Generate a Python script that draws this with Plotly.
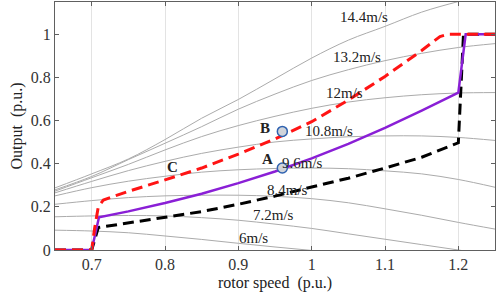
import plotly.graph_objects as go

# rotor speed grid (p.u.) for the wind-speed power curves
speed = [0.65, 0.70, 0.75, 0.80, 0.85, 0.90, 0.95, 1.00, 1.05, 1.10, 1.15, 1.20, 1.25]

wind_labels = ["6m/s", "7.2m/s", "8.4m/s", "9.6m/s", "10.8m/s", "12m/s", "13.2m/s", "14.4m/s"]
p_6 = [0.092, 0.088, 0.080, 0.065, 0.049, 0.031, 0.014, -0.002, -0.02, -0.04, -0.06, -0.08, -0.10]
p_72 = [0.154, 0.158, 0.160, 0.158, 0.150, 0.138, 0.120, 0.100, 0.075, 0.050, 0.025, 0.0, -0.025]
p_84 = [0.212, 0.229, 0.243, 0.251, 0.254, 0.254, 0.249, 0.238, 0.219, 0.191, 0.161, 0.128, 0.097]
p_96 = [0.251, 0.289, 0.319, 0.342, 0.361, 0.372, 0.378, 0.380, 0.377, 0.367, 0.353, 0.327, 0.291]
p_108 = [0.265, 0.318, 0.368, 0.411, 0.448, 0.477, 0.501, 0.515, 0.525, 0.529, 0.529, 0.522, 0.508]
p_12 = [0.273, 0.335, 0.397, 0.464, 0.526, 0.577, 0.620, 0.657, 0.686, 0.706, 0.720, 0.728, 0.730]
p_132 = [0.279, 0.341, 0.419, 0.495, 0.572, 0.653, 0.723, 0.786, 0.836, 0.878, 0.912, 0.939, 0.957]
p_144 = [0.288, 0.353, 0.422, 0.512, 0.611, 0.698, 0.794, 0.890, 0.973, 1.037, 1.103, 1.152, 1.193]
wind_curves = [p_6, p_72, p_84, p_96, p_108, p_12, p_132, p_144]

# curve label positions
lab_x = [0.92, 0.948, 0.967, 0.988, 1.023, 1.045, 1.062, 1.072]
lab_y = [0.056, 0.164, 0.277, 0.404, 0.55, 0.729, 0.896, 1.082]

# control strategy curves
red_x = [0.65, 0.70, 0.704, 0.709, 0.716, 0.75, 0.80, 0.85, 0.90, 0.95, 1.00, 1.05, 1.10, 1.15, 1.175, 1.185, 1.25]
red_y = [0, 0, 0.10, 0.20, 0.232, 0.272, 0.325, 0.38, 0.445, 0.515, 0.595, 0.695, 0.805, 0.925, 0.99, 1.0, 1.0]

pur_x = [0.65, 0.70, 0.71, 0.75, 0.80, 0.85, 0.90, 0.95, 1.00, 1.05, 1.10, 1.15, 1.20, 1.21, 1.25]
pur_y = [0, 0, 0.152, 0.179, 0.218, 0.261, 0.310, 0.364, 0.425, 0.492, 0.566, 0.646, 0.73, 1.0, 1.0]

blk_x = [0.65, 0.70, 0.709, 0.75, 0.80, 0.85, 0.90, 0.95, 1.00, 1.05, 1.10, 1.15, 1.20, 1.207, 1.25]
blk_y = [0, 0, 0.104, 0.125, 0.15, 0.178, 0.212, 0.25, 0.292, 0.333, 0.38, 0.43, 0.497, 1.0, 1.0]

# operating points
pt_names = ["A", "B"]
pt_x = [0.96, 0.96]
pt_y = [0.38, 0.55]
letter_x = [0.94, 0.936, 0.81]
letter_y = [0.42, 0.565, 0.386]
letters = ["A", "B", "C"]

x_ticks = [0.7, 0.8, 0.9, 1.0, 1.1, 1.2]
x_tick_text = ["0.7", "0.8", "0.9", "1", "1.1", "1.2"]
y_ticks = [0, 0.2, 0.4, 0.6, 0.8, 1.0]
y_tick_text = ["0", "0.2", "0.4", "0.6", "0.8", "1"]

SERIF = "Liberation Serif"

fig = go.Figure()
for vals in wind_curves:
    fig.add_trace(go.Scatter(x=speed, y=vals, mode="lines",
                             line=dict(color="#ababab", width=1, shape="spline"),
                             showlegend=False, hoverinfo="skip"))

fig.add_trace(go.Scatter(x=blk_x, y=blk_y, mode="lines",
                         line=dict(color="black", width=3, dash="11px,6px"), showlegend=False))
fig.add_trace(go.Scatter(x=pur_x, y=pur_y, mode="lines",
                         line=dict(color="#8a1fd6", width=2.5), showlegend=False))
fig.add_trace(go.Scatter(x=red_x, y=red_y, mode="lines",
                         line=dict(color="#ff1414", width=3, dash="11px,6px"), showlegend=False))
fig.add_trace(go.Scatter(x=pt_x, y=pt_y, mode="markers", text=pt_names,
                         marker=dict(size=10, color="#d0d4da", line=dict(color="#2f62b0", width=1.5)),
                         showlegend=False))

for t, xx, yy in zip(wind_labels, lab_x, lab_y):
    fig.add_annotation(x=xx, y=yy, text=t, showarrow=False,
                       font=dict(family=SERIF, size=15, color="#222"))
for t, xx, yy in zip(letters, letter_x, letter_y):
    fig.add_annotation(x=xx, y=yy, text="<b>" + t + "</b>", showarrow=False,
                       font=dict(family=SERIF, size=15, color="#222"))

axis_common = dict(showline=True, linecolor="#606060", linewidth=1, mirror="ticks",
                   ticks="inside", ticklen=4, tickcolor="#606060", zeroline=False,
                   automargin=False,
                   tickfont=dict(family=SERIF, size=16, color="#333"))
fig.update_xaxes(range=[0.65, 1.25], tickvals=x_ticks, ticktext=x_tick_text,
                 showgrid=True, gridcolor="#e3e3e3", gridwidth=1,
                 title=dict(text="rotor speed  (p.u.)", font=dict(family=SERIF, size=16, color="#222"),
                            standoff=4),
                 **axis_common)
fig.update_yaxes(range=[0, 1.15], tickvals=y_ticks, ticktext=y_tick_text,
                 showgrid=False,
                 title=dict(text="Output  (p.u.)", font=dict(family=SERIF, size=16, color="#222"),
                            standoff=4),
                 **axis_common)

fig.update_layout(width=498, height=298, margin=dict(l=55, r=3, t=2, b=48),
                  plot_bgcolor="white", paper_bgcolor="white")

fig.write_html("out.html", config={"displayModeBar": False},
               post_script="document.body.style.margin='0px';")
